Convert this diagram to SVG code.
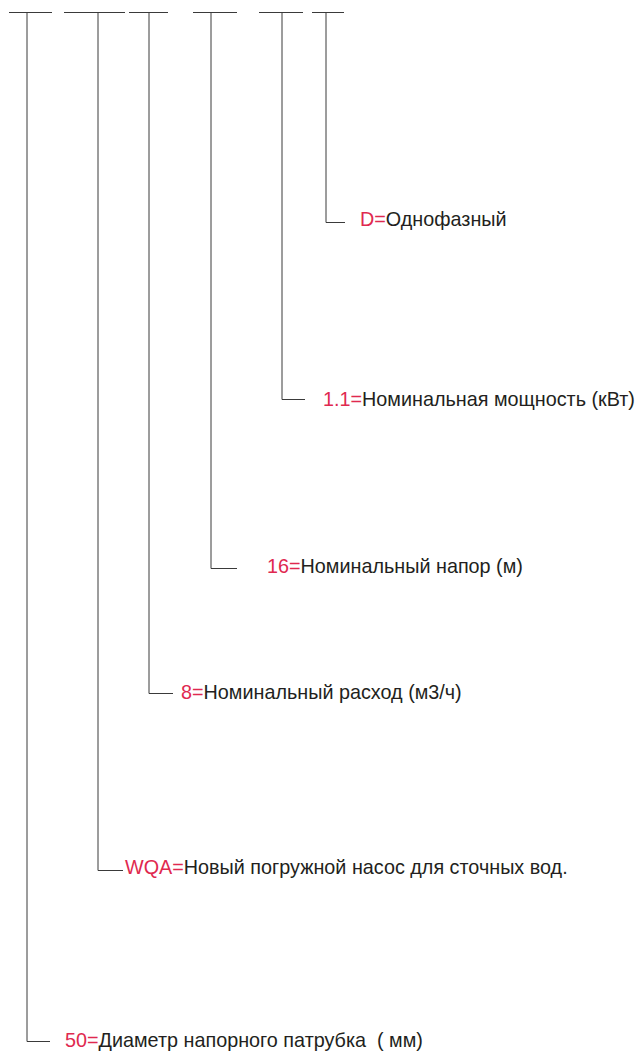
<svg xmlns="http://www.w3.org/2000/svg" width="635" height="1056" viewBox="0 0 635 1056">
<style>
.ln{stroke:#3a3a3a;stroke-width:1;fill:none}
.t{font-family:"Liberation Sans",Arial,sans-serif;font-size:19.8px;fill:#231f20}
.r{fill:#e0294f}
</style>
<rect width="635" height="1056" fill="#fff"/>
<g id="connectors">
<path class="ln" d="M9,12.5H52M27,12.5V1041.5H50"/>
<path class="ln" d="M64,12.5H125M98,12.5V870.5H123"/>
<path class="ln" d="M129,12.5H168M149,12.5V693.5H173"/>
<path class="ln" d="M193,12.5H237M211,12.5V568.5H237"/>
<path class="ln" d="M259,12.5H303M282,12.5V399.5H305"/>
<path class="ln" d="M312,12.5H344M326,12.5V222.5H345"/>
</g>
<g id="n-d"><text class="t" x="360" y="226"><tspan class="r">D=</tspan>Однофазный</text></g>
<g id="n-11"><text class="t" x="323" y="406"><tspan class="r">1.1=</tspan>Номинальная мощность (кВт)</text></g>
<g id="n-16"><text class="t" x="267" y="573"><tspan class="r">16=</tspan>Номинальный напор (м)</text></g>
<g id="n-8"><text class="t" x="181" y="699"><tspan class="r">8=</tspan>Номинальный расход (м3/ч)</text></g>
<g id="n-wqa"><text class="t" x="125" y="874"><tspan class="r">WQA=</tspan>Новый погружной насос для сточных вод.</text></g>
<g id="n-50"><text class="t" x="65" y="1047" xml:space="preserve"><tspan class="r">50=</tspan>Диаметр напорного патрубка  ( мм)</text></g>
</svg>
